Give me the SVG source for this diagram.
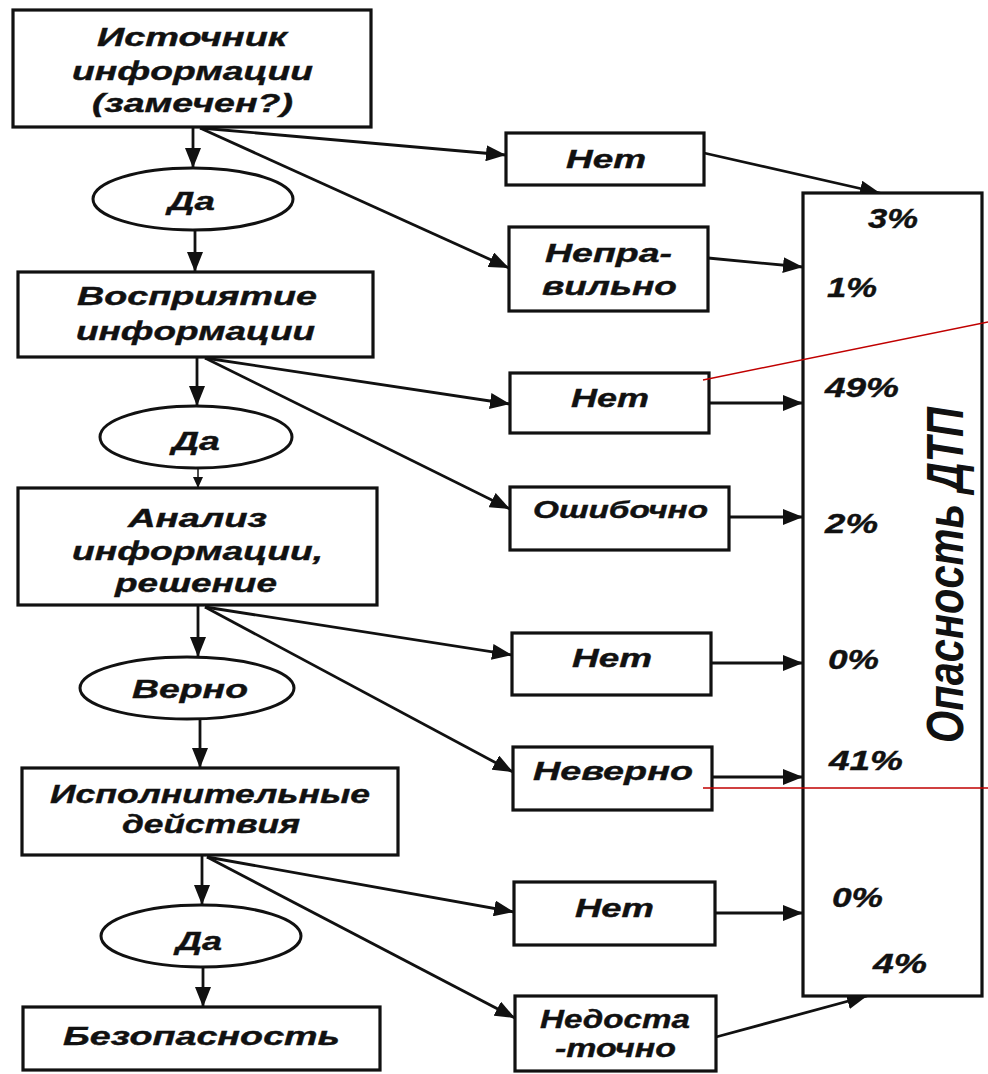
<svg xmlns="http://www.w3.org/2000/svg" width="988" height="1074" viewBox="0 0 988 1074">
<defs>
<style>
.box{fill:#fff;stroke:#111;stroke-width:3.2}
.ell{fill:#fff;stroke:#111;stroke-width:3}
.t{font-family:"Liberation Sans",Arial,sans-serif;font-weight:bold;font-style:italic;font-size:26px;fill:#111;stroke:#111;stroke-width:0.4}
.ts{font-size:23px}
.pc{font-family:"Liberation Sans",Arial,sans-serif;font-weight:bold;font-style:italic;font-size:27px;fill:#111;stroke:#111;stroke-width:0.4}
.big{font-family:"Liberation Sans",Arial,sans-serif;font-weight:bold;font-style:italic;font-size:52px;fill:#111}
.c{stroke:#111;stroke-width:2.8;fill:none;marker-end:url(#ah)}
.thin{stroke:#111;stroke-width:1.5;fill:none;marker-end:url(#ahs)}
.red{stroke:#c00000;stroke-width:1.5;fill:none}
</style>
<marker id="ah" markerUnits="userSpaceOnUse" markerWidth="22" markerHeight="16" refX="20" refY="8" orient="auto"><path d="M0,0 L20,8 L0,16 z" fill="#111"/></marker>
<marker id="ahs" markerUnits="userSpaceOnUse" markerWidth="12" markerHeight="10" refX="11" refY="5" orient="auto"><path d="M0,0 L11,5 L0,10 z" fill="#111"/></marker>
</defs>
<rect width="988" height="1074" fill="#fff"/>

<g id="connectors">
<line class="c" x1="193" y1="128" x2="193" y2="168"/>
<line class="c" x1="195" y1="231" x2="195" y2="272"/>
<line class="c" x1="197" y1="358" x2="197" y2="406"/>
<line class="thin" x1="198" y1="469" x2="198" y2="488"/>
<line class="c" x1="198" y1="606" x2="198" y2="657"/>
<line class="c" x1="200" y1="720" x2="200" y2="768"/>
<line class="c" x1="202" y1="856" x2="202" y2="905"/>
<line class="c" x1="203" y1="968" x2="203" y2="1007"/>

<line class="c" x1="200" y1="128" x2="506" y2="155"/>
<line class="c" x1="200" y1="128" x2="509" y2="268"/>
<line class="c" x1="205" y1="358" x2="510" y2="404"/>
<line class="c" x1="205" y1="358" x2="510" y2="509"/>
<line class="c" x1="205" y1="607" x2="512" y2="655"/>
<line class="c" x1="205" y1="607" x2="513" y2="772"/>
<line class="c" x1="207" y1="857" x2="514" y2="912"/>
<line class="c" x1="207" y1="857" x2="515" y2="1018"/>

<line class="c" x1="704" y1="153" x2="880" y2="193"/>
<line class="c" x1="708" y1="258" x2="803" y2="267"/>
<line class="c" x1="709" y1="403" x2="803" y2="403"/>
<line class="c" x1="729" y1="517" x2="803" y2="517"/>
<line class="c" x1="711" y1="663" x2="803" y2="663"/>
<line class="c" x1="712" y1="777" x2="803" y2="777"/>
<line class="c" x1="715" y1="913" x2="803" y2="913"/>
<line class="c" x1="716" y1="1037" x2="867" y2="996"/>
</g>

<g id="n-source">
<rect class="box" x="13" y="10" width="358" height="117"/>
<text class="t" x="97" y="46" textLength="190" lengthAdjust="spacingAndGlyphs">Источник</text>
<text class="t" x="72" y="80" textLength="241" lengthAdjust="spacingAndGlyphs">информации</text>
<text class="t" x="92" y="112" textLength="201" lengthAdjust="spacingAndGlyphs">(замечен?)</text>
</g>
<g id="n-yes1">
<ellipse class="ell" cx="193" cy="199" rx="100" ry="31"/>
<text class="t" x="168" y="210" textLength="47" lengthAdjust="spacingAndGlyphs">Да</text>
</g>
<g id="n-perception">
<rect class="box" x="18" y="272" width="355" height="85"/>
<text class="t" x="77" y="305" textLength="240" lengthAdjust="spacingAndGlyphs">Восприятие</text>
<text class="t" x="76" y="340" textLength="239" lengthAdjust="spacingAndGlyphs">информации</text>
</g>
<g id="n-yes2">
<ellipse class="ell" cx="196" cy="437" rx="96" ry="31"/>
<text class="t" x="172" y="450" textLength="48" lengthAdjust="spacingAndGlyphs">Да</text>
</g>
<g id="n-analysis">
<rect class="box" x="18" y="488" width="359" height="117"/>
<text class="t" x="128" y="527" textLength="139" lengthAdjust="spacingAndGlyphs">Анализ</text>
<text class="t" x="72" y="560" textLength="251" lengthAdjust="spacingAndGlyphs">информации,</text>
<text class="t" x="115" y="592" textLength="162" lengthAdjust="spacingAndGlyphs">решение</text>
</g>
<g id="n-correct">
<ellipse class="ell" cx="187" cy="688" rx="107" ry="31"/>
<text class="t" x="132" y="698" textLength="116" lengthAdjust="spacingAndGlyphs">Верно</text>
</g>
<g id="n-actions">
<rect class="box" x="22" y="768" width="376" height="87"/>
<text class="t" x="50" y="803" textLength="320" lengthAdjust="spacingAndGlyphs">Исполнительные</text>
<text class="t" x="122" y="833" textLength="178" lengthAdjust="spacingAndGlyphs">действия</text>
</g>
<g id="n-yes3">
<ellipse class="ell" cx="201" cy="936" rx="100" ry="31"/>
<text class="t" x="176" y="950" textLength="46" lengthAdjust="spacingAndGlyphs">Да</text>
</g>
<g id="n-safety">
<rect class="box" x="23" y="1007" width="357" height="63"/>
<text class="t" x="63" y="1045" textLength="277" lengthAdjust="spacingAndGlyphs">Безопасность</text>
</g>

<g id="n-no1">
<rect class="box" x="506" y="133" width="198" height="52"/>
<text class="t" x="566" y="168" textLength="80" lengthAdjust="spacingAndGlyphs">Нет</text>
</g>
<g id="n-wrong">
<rect class="box" x="509" y="227" width="199" height="84"/>
<text class="t" x="545" y="262" textLength="127" lengthAdjust="spacingAndGlyphs">Непра-</text>
<text class="t" x="542" y="295" textLength="135" lengthAdjust="spacingAndGlyphs">вильно</text>
</g>
<g id="n-no2">
<rect class="box" x="510" y="373" width="199" height="60"/>
<text class="t" x="571" y="407" textLength="78" lengthAdjust="spacingAndGlyphs">Нет</text>
</g>
<g id="n-mistaken">
<rect class="box" x="510" y="487" width="219" height="63"/>
<text class="t ts" x="533" y="518" textLength="175" lengthAdjust="spacingAndGlyphs">Ошибочно</text>
</g>
<g id="n-no3">
<rect class="box" x="512" y="633" width="199" height="62"/>
<text class="t" x="572" y="667" textLength="80" lengthAdjust="spacingAndGlyphs">Нет</text>
</g>
<g id="n-incorrect">
<rect class="box" x="513" y="747" width="199" height="63"/>
<text class="t" x="533" y="780" textLength="160" lengthAdjust="spacingAndGlyphs">Неверно</text>
</g>
<g id="n-no4">
<rect class="box" x="514" y="882" width="201" height="63"/>
<text class="t" x="575" y="917" textLength="79" lengthAdjust="spacingAndGlyphs">Нет</text>
</g>
<g id="n-insufficient">
<rect class="box" x="515" y="996" width="201" height="75"/>
<text class="t" x="540" y="1028" textLength="150" lengthAdjust="spacingAndGlyphs">Недоста</text>
<text class="t" x="555" y="1057" textLength="121" lengthAdjust="spacingAndGlyphs">-точно</text>
</g>

<g id="n-danger">
<rect class="box" x="803" y="193" width="179" height="803"/>
<text class="pc" x="868" y="228" textLength="50" lengthAdjust="spacingAndGlyphs">3%</text>
<text class="pc" x="827" y="297" textLength="50" lengthAdjust="spacingAndGlyphs">1%</text>
<text class="pc" x="825" y="397" textLength="74" lengthAdjust="spacingAndGlyphs">49%</text>
<text class="pc" x="825" y="533" textLength="53" lengthAdjust="spacingAndGlyphs">2%</text>
<text class="pc" x="828" y="669" textLength="51" lengthAdjust="spacingAndGlyphs">0%</text>
<text class="pc" x="829" y="770" textLength="74" lengthAdjust="spacingAndGlyphs">41%</text>
<text class="pc" x="832" y="907" textLength="51" lengthAdjust="spacingAndGlyphs">0%</text>
<text class="pc" x="873" y="973" textLength="54" lengthAdjust="spacingAndGlyphs">4%</text>
<text class="big" transform="translate(963,743) rotate(-90)" x="0" y="0" textLength="336" lengthAdjust="spacingAndGlyphs">Опасность ДТП</text>
</g>

<g id="red-lines">
<line class="red" x1="703" y1="380" x2="988" y2="322"/>
<line class="red" x1="703" y1="788" x2="988" y2="788"/>
</g>
</svg>
